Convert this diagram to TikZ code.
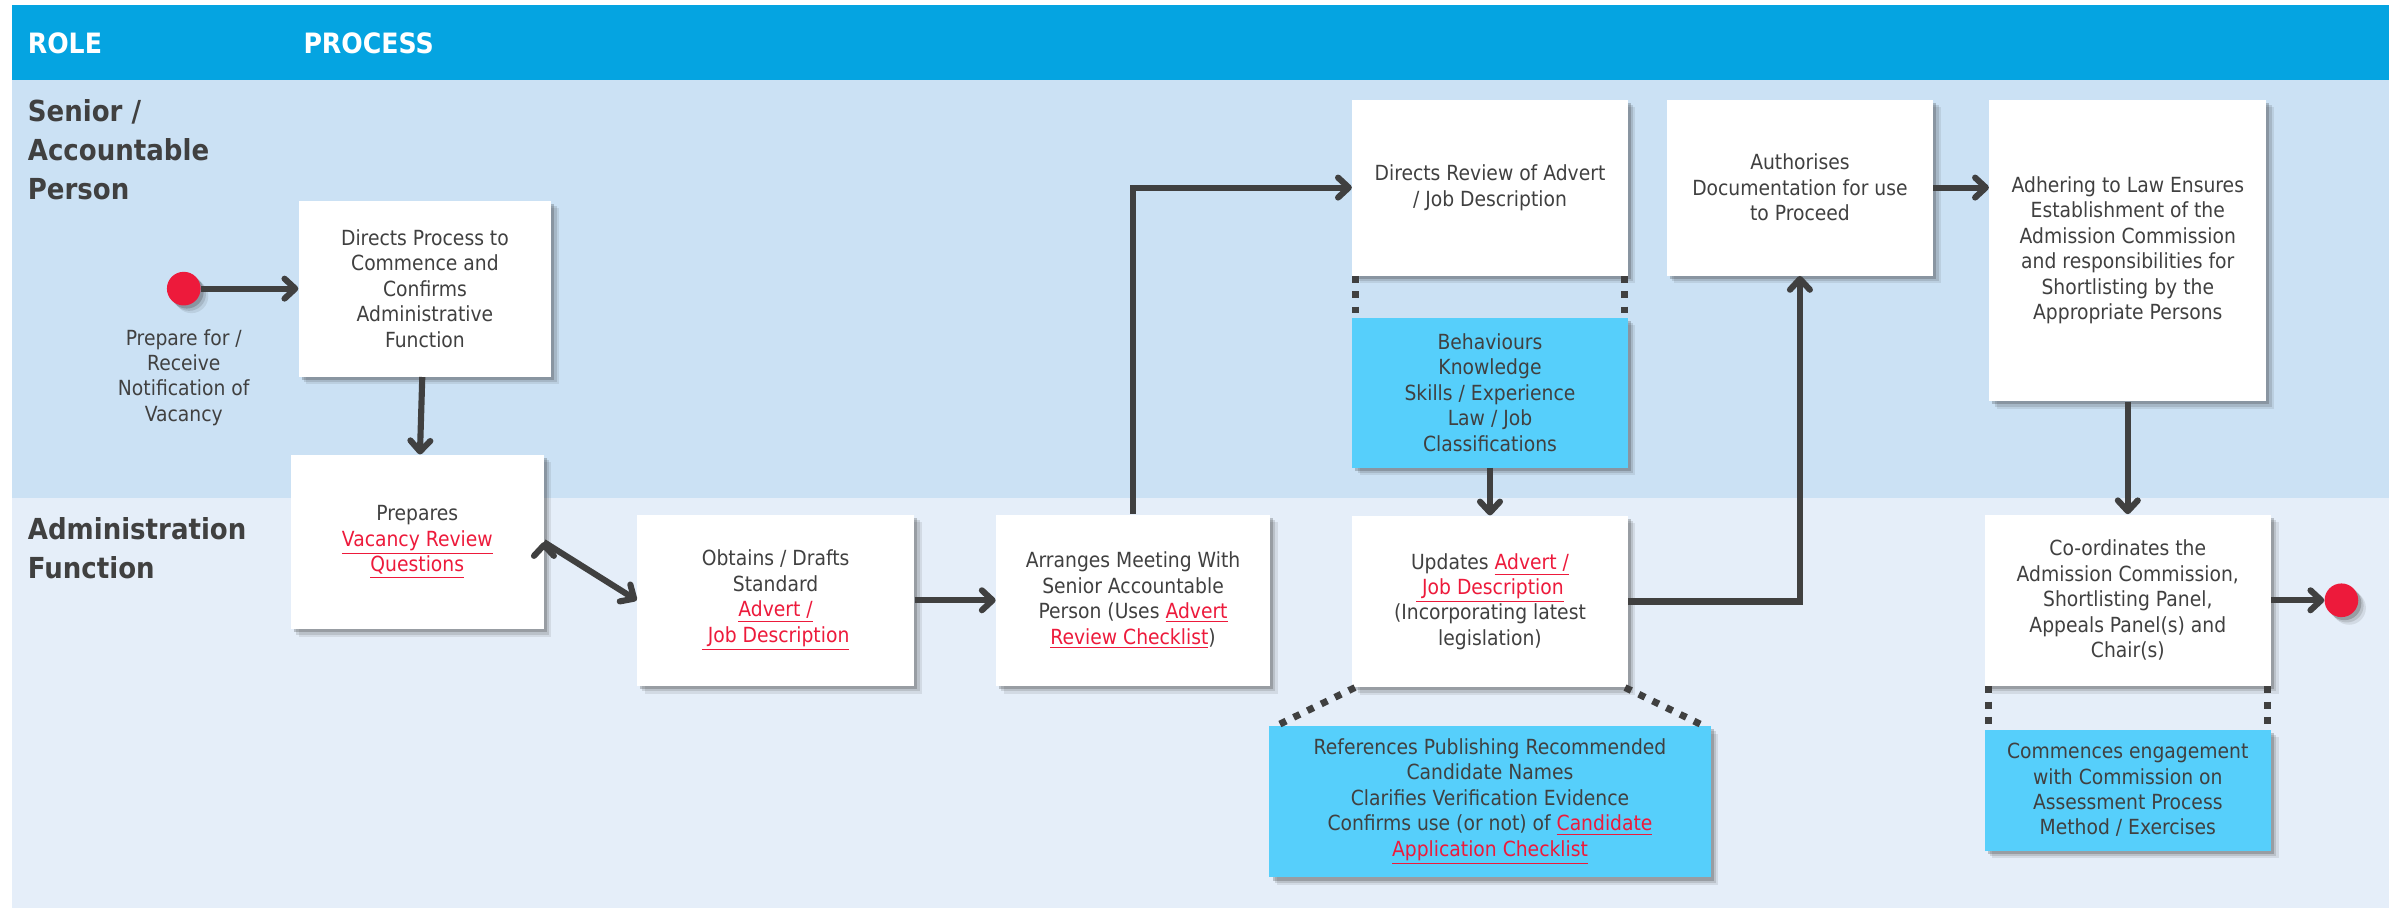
\documentclass[tikz,border=0pt]{standalone}
\usepackage{amsmath,amssymb}
\usepackage{fontspec}
\setmainfont{DejaVu Sans}[FakeStretch=0.9]
\usepackage{tikz}
\usetikzlibrary{positioning,shadows,arrows.meta}

\definecolor{hdrblue}{RGB}{5,164,225}
\definecolor{seniorbg}{RGB}{203,225,244}
\definecolor{adminbg}{RGB}{229,238,249}
\definecolor{infocyan}{RGB}{86,207,251}
\definecolor{linkred}{RGB}{237,26,59}
\definecolor{txtgray}{RGB}{64,64,64}

\newcommand{\lnk}[1]{{\color{linkred}\underline{#1}}}
\newcommand{\boxfont}{\fontsize{13.6}{16.6}\selectfont}
\newcommand{\lanefont}{\fontsize{18.9}{25.5}\selectfont\bfseries}
\newcommand{\hdrfont}{\fontsize{18.3}{22}\selectfont\bfseries}

\tikzset{
  softshadow/.style={
    drop shadow={shadow xshift=5pt,shadow yshift=-5pt,opacity=.10,fill=black!80},
    drop shadow={shadow xshift=3.5pt,shadow yshift=-3.5pt,opacity=.15,fill=black!80},
    drop shadow={shadow xshift=2pt,shadow yshift=-2pt,opacity=.25,fill=black!80}},
  procbox/.style={fill=white,text=txtgray,align=center,font=\boxfont,inner sep=2pt,softshadow},
  infobox/.style={procbox,fill=infocyan},
  dotbox/.style={circle,fill=linkred,minimum size=22pt,inner sep=0pt,softshadow},
  flow/.style={draw=txtgray,line width=4pt,-{Straight Barb[length=7pt,width=13pt,round]}},
  tie/.style={draw=txtgray,line width=4.5pt,dash pattern=on 4.5pt off 5.5pt}
}

\begin{document}
\begin{tikzpicture}[x=1pt,y=-1pt]
            \useasboundingbox (0,0) rectangle (1564,593);
            \fill[hdrblue] (8,3) rectangle (1560,52);
            \fill[seniorbg] (8,52) rectangle (1560,325);
            \fill[adminbg] (8,325) rectangle (1560,593);

            \node[anchor=west,inner sep=0pt,text=white,font=\hdrfont](rl) at (18,28){ROLE};
            \node[anchor=west,inner sep=0pt,text=white,font=\hdrfont](pc) at (198,28){PROCESS};
            \node[anchor=north west,align=left,inner sep=0pt,text=txtgray,font=\lanefont](sn) at (18,64.5){Senior /\\Accountable\\Person};
            \node[anchor=north west,align=left,inner sep=0pt,text=txtgray,font=\lanefont](af) at (18,337.5){Administration\\Function};

            \node[dotbox](s) at (120,188.5){};
            \node[align=center,text=txtgray,font=\boxfont](sl) at (120,246.5){Prepare for /\\Receive\\Notification of\\Vacancy};

            \node[procbox,minimum width=165pt,minimum height=115pt](dp) at (277.5,188.5){Directs Process to\\Commence and\\Confirms\\Administrative\\Function};
            \node[procbox,minimum width=165pt,minimum height=114pt](pr) at (272.5,354){Prepares\\\lnk{Vacancy Review}\\\lnk{Questions}};
            \node[procbox,minimum width=181pt,minimum height=112pt](ob) at (506.5,392){Obtains / Drafts\\Standard\\\lnk{Advert /}\\\lnk{\ Job Description}};
            \node[procbox,minimum width=179pt,minimum height=112pt](ar)[right =53pt of ob]{Arranges Meeting With\\Senior Accountable\\Person (Uses \lnk{Advert}\\\lnk{Review Checklist})};

            \node[procbox,minimum width=180pt,minimum height=115pt](dr) at (973,122.5){Directs Review of Advert\\/ Job Description};
            \node[infobox,minimum width=180pt,minimum height=98pt](be)[below =27pt of dr]{Behaviours\\Knowledge\\Skills / Experience\\Law / Job\\Classifications};
            \node[procbox,minimum width=180pt,minimum height=112pt](up)[below =31pt of be]{Updates \lnk{Advert /}\\\lnk{\ Job Description}\\(Incorporating latest\\legislation)};
            \node[infobox,minimum width=288pt,minimum height=99pt](re) at (973,523.5){References Publishing Recommended\\Candidate Names\\Clarifies Verification Evidence\\Confirms use (or not) of \lnk{Candidate}\\\lnk{Application Checklist}};

            \node[procbox,minimum width=174pt,minimum height=115pt](au)[right =25pt of dr]{Authorises\\Documentation for use\\to Proceed};
            \node[procbox,minimum width=181pt,minimum height=197pt](ad) at (1389.5,163.5){Adhering to Law Ensures\\Establishment of the\\Admission Commission\\and responsibilities for\\Shortlisting by the\\Appropriate Persons};
            \node[procbox,minimum width=187pt,minimum height=112pt](co) at (1389.5,392){Co-ordinates the\\Admission Commission,\\Shortlisting Panel,\\Appeals Panel(s) and\\Chair(s)};
            \node[infobox,minimum width=187pt,minimum height=79pt](cm)[below =28pt of co]{Commences engagement\\with Commission on\\Assessment Process\\Method / Exercises};
            \node[dotbox](e) at (1529,392){};

            \path[flow](s) edge (dp)
                        (dp) edge (pr)
                        (pr.east) edge (ob.west)
                        (ob) edge (ar)
                        (be) edge (up)
                        (ad) edge (co)
                        (co) edge (e);
            \draw[flow](ar) |- (dr);
            \draw[flow](up) -| (au);
            \draw[flow](au.east) -- (au.east -| ad.west);

            \draw[tie]([xshift=2.5pt]dr.south west) -- ([xshift=2.5pt]be.north west);
            \draw[tie]([xshift=-2.5pt]dr.south east) -- ([xshift=-2.5pt]be.north east);
            \draw[tie]([xshift=2.5pt]co.south west) -- ([xshift=2.5pt]cm.north west);
            \draw[tie]([xshift=-2.5pt]co.south east) -- ([xshift=-2.5pt]cm.north east);
            \draw[tie]([xshift=2pt]up.south west) -- ([xshift=5pt]re.north west);
            \draw[tie]([xshift=-2pt]up.south east) -- ([xshift=-5pt]re.north east);
        \end{tikzpicture}
\end{document}
